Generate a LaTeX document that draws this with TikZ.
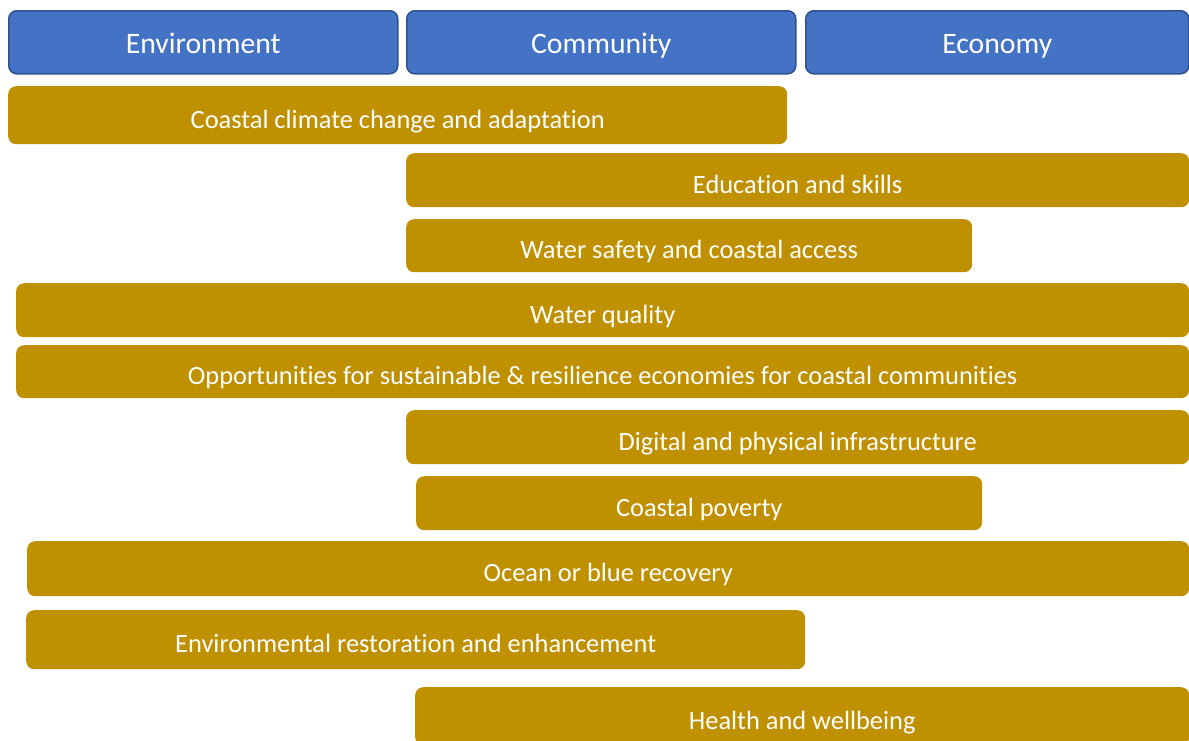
\documentclass[tikz,border=0pt]{standalone}
\usepackage{fontspec}
\setmainfont[Ligatures=NoCommon]{Carlito}
\definecolor{headblue}{HTML}{4472C4}
\definecolor{headline}{HTML}{2F528F}
\definecolor{bargold}{HTML}{BF9000}
\begin{document}
\begin{tikzpicture}[
    x=1pt, y=-1pt,
    head/.style={draw=headline, line width=1.5pt, fill=headblue, rounded corners=8pt,
        anchor=north west, inner sep=0pt, text=white, text height=23pt, text depth=0pt,
        font=\fontsize{29.7}{32}\selectfont},
    bar/.style={fill=bargold, rounded corners=8pt, anchor=north west, inner sep=0pt,
        text=white, text height=26pt, text depth=0pt,
        font=\fontsize{26.4}{30}\selectfont}
]
\useasboundingbox (0,0) rectangle (1189,740);
% Kopfzeile
\node[head, minimum width=389pt, minimum height=63pt] (env) at (8,10) {Environment};
\node[head, minimum width=389pt, minimum height=63pt] (com) at (406,10) {Community};
\node[head, minimum width=383pt, minimum height=63pt] (eco) at (805,10) {Economy};

% Themen
\node[bar, minimum width=779pt, minimum height=58pt] (climate) at (8,86) {Coastal climate change and adaptation};
\node[bar, minimum width=783pt, minimum height=54pt] (education) at (406,153) {Education and skills};
\node[bar, minimum width=566pt, minimum height=53pt] (safety) at (406,219) {Water safety and coastal access};
\node[bar, minimum width=1173pt, minimum height=54pt] (quality) at (16,283) {Water quality};
\node[bar, minimum width=1173pt, minimum height=53pt] (opportunities) at (16,345) {Opportunities for sustainable \& resilience economies for coastal communities};
\node[bar, minimum width=783pt, minimum height=54pt] (digital) at (406,410) {Digital and physical infrastructure};
\node[bar, minimum width=566pt, minimum height=54pt] (poverty) at (416,476) {Coastal poverty};
\node[bar, minimum width=1162pt, minimum height=55pt] (ocean) at (27,541) {Ocean or blue recovery};
\node[bar, minimum width=779pt, minimum height=59pt] (restoration) at (26,610) {Environmental restoration and enhancement};
\node[bar, minimum width=774pt, minimum height=58pt] (health) at (415,687) {Health and wellbeing};
\end{tikzpicture}
\end{document}
